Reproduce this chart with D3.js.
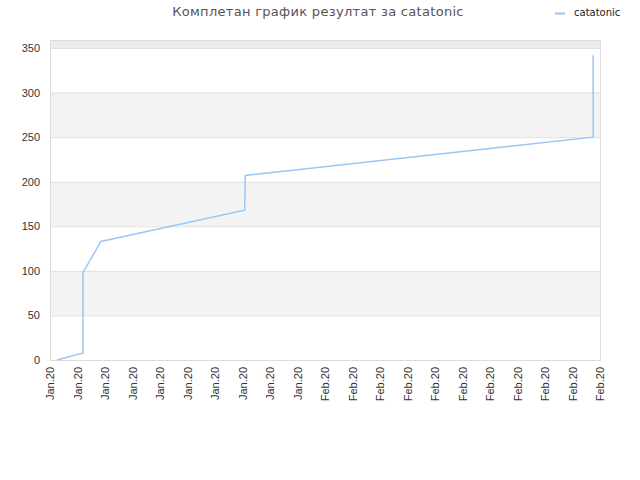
<!DOCTYPE html>
<html>
<head>
<meta charset="utf-8">
<script src="https://cdn.jsdelivr.net/npm/d3@7"></script>
<style>
  body { margin: 0; background: #fff; }
  svg { font-family: "DejaVu Sans", sans-serif; }
</style>
</head>
<body>
<svg id="chart" width="640" height="480"></svg>
<script>
'use strict';

// x positions are in tick units (0 = first tick), values are the score
const xPos = [0.25, 1.2, 1.2, 1.85, 7.08, 7.1, 19.75, 19.75];
const scores = [0, 8, 98, 133, 168, 207, 250, 342];
const tickLabels = ["Jan.20", "Jan.20", "Jan.20", "Jan.20", "Jan.20", "Jan.20", "Jan.20",
  "Jan.20", "Jan.20", "Jan.20", "Feb.20", "Feb.20", "Feb.20", "Feb.20", "Feb.20",
  "Feb.20", "Feb.20", "Feb.20", "Feb.20", "Feb.20", "Feb.20"];
const yTicks = [0, 50, 100, 150, 200, 250, 300, 350];
const seriesName = "catatonic";

const svg = d3.select("#chart"),
  margin = {top: 40, right: 40, bottom: 120, left: 50},
  width = 640 - margin.left - margin.right,
  height = 480 - margin.top - margin.bottom,
  g = svg.append("g").attr("transform", "translate(" + margin.left + "," + margin.top + ")");

const x = d3.scaleLinear().domain([0, tickLabels.length - 1]).range([0, width]),
  y = d3.scaleLinear().domain([0, 359]).range([height, 0]);

const data = xPos.map((d, i) => ({x: d, v: scores[i]}));

// alternating bands
const bands = [[50, 100], [150, 200], [250, 300]];
g.selectAll(".band")
  .data(bands)
  .enter().append("rect")
    .attr("x", 0)
    .attr("width", width)
    .attr("y", (d) => y(d[1]))
    .attr("height", (d) => y(d[0]) - y(d[1]))
    .attr("fill", "#f3f3f3");

g.append("rect")
  .attr("x", 0)
  .attr("width", width)
  .attr("y", 0)
  .attr("height", y(350))
  .attr("fill", "#ececec");

g.selectAll(".grid")
  .data(yTicks)
  .enter().append("line")
    .attr("x1", 0)
    .attr("x2", width)
    .attr("y1", (d) => y(d) + 0.5)
    .attr("y2", (d) => y(d) + 0.5)
    .attr("stroke", "#e0e0e0");

// frame
g.append("rect")
  .attr("x", 0.5)
  .attr("y", 0.5)
  .attr("width", width)
  .attr("height", height)
  .attr("fill", "none")
  .attr("stroke", "#dcdcdc");

const yAxis = g.append("g")
  .call(d3.axisLeft(y).tickValues(yTicks).tickSize(0).tickPadding(10));
yAxis.select(".domain").remove();
yAxis.selectAll("text")
  .attr("fill", "#333")
  .style("font-family", "'Liberation Sans', Arial, sans-serif")
  .style("font-size", "11px");

const xAxis = g.append("g")
  .attr("transform", "translate(0," + height + ")")
  .call(d3.axisBottom(x).tickValues(d3.range(tickLabels.length)).tickSize(0)
    .tickFormat((i) => tickLabels[i]));
xAxis.select(".domain").remove();
xAxis.selectAll("text")
  .attr("fill", "#333")
  .style("font-family", "'Liberation Sans', Arial, sans-serif")
  .style("font-size", "11px")
  .attr("text-anchor", "end")
  .attr("transform", "rotate(-90)")
  .attr("x", -7)
  .attr("y", 0)
  .attr("dy", "0.35em");

const line = d3.line()
  .x((d) => x(d.x))
  .y((d) => y(d.v));

g.append("path")
  .datum(data)
  .attr("d", line)
  .attr("fill", "none")
  .attr("stroke", "#99c7f5")
  .attr("stroke-width", 1.5);

svg.append("text")
  .attr("x", 318)
  .attr("y", 16)
  .attr("text-anchor", "middle")
  .attr("fill", "#555")
  .style("font-size", "13px")
  .style("letter-spacing", "0.3px")
  .text("Комплетан график резултат за " + seriesName);

svg.append("line")
  .attr("x1", 555)
  .attr("x2", 565)
  .attr("y1", 13.5)
  .attr("y2", 13.5)
  .attr("stroke", "#99c7f5")
  .attr("stroke-width", 2);

svg.append("text")
  .attr("x", 574)
  .attr("y", 16)
  .attr("fill", "#222")
  .style("font-size", "10px")
  .text(seriesName);
</script>
</body>
</html>
